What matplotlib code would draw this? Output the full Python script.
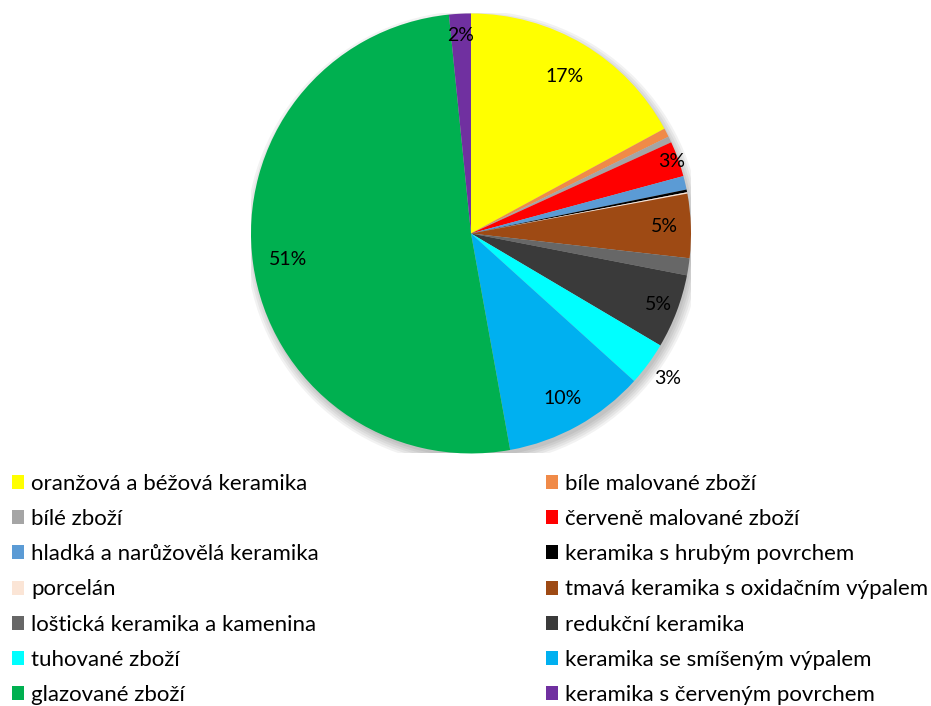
import numpy as np
import matplotlib.pyplot as plt
from matplotlib.patches import Circle, Patch

# Sherd groups and their share (percent), clockwise from 12 o'clock
categories = [
    'oranžová a béžová keramika', 'bíle malované zboží',
    'bílé zboží', 'červeně malované zboží',
    'hladká a narůžovělá keramika', 'keramika s hrubým povrchem',
    'porcelán', 'tmavá keramika s oxidačním výpalem',
    'loštická keramika a kamenina', 'redukční keramika',
    'tuhované zboží', 'keramika se smíšeným výpalem',
    'glazované zboží', 'keramika s červeným povrchem',
]
shares = [17.1, 0.65, 0.45, 2.6, 1.0, 0.2, 0.1, 4.7, 1.25, 5.45, 3.2, 10.45, 51.25, 1.6]
colors = ['#FFFF00', '#F08A48', '#A5A5A5', '#FF0000', '#5B9BD5', '#000000',
          '#FBE5D6', '#9E4A14', '#676767', '#3A3A3A', '#00FFFF', '#00B0F0',
          '#00B050', '#7030A0']
label_radius = [0.83, 0, 0, 0.97, 0, 0, 0, 0.88, 0, 0.91, 1.11, 0.86, 0.84, 0.9]

fig = plt.figure(figsize=(9.31, 7.06), dpi=100)
ax = fig.add_axes([0.2696, 0.3577, 0.4726, 0.6232])

# soft shadow, mostly below and to the right
for i in range(5):
    ax.add_patch(Circle((0.012, -0.022), 0.985 + 0.01 * (i + 1), color='black',
                        alpha=0.05, lw=0, zorder=0))

wedges, _ = ax.pie(shares, colors=colors, startangle=90, counterclock=False,
                   radius=1.0, wedgeprops=dict(linewidth=0))
for w in wedges:
    w.set_zorder(2)

for w, s, r in zip(wedges, shares, label_radius):
    if r == 0:
        continue
    ang = np.deg2rad((w.theta1 + w.theta2) / 2)
    ax.text(r * np.cos(ang), r * np.sin(ang), f'{round(s):d}%', ha='center',
            va='center', fontsize=14, family='Lato', zorder=3)

ax.set_xlim(-1, 1)
ax.set_ylim(-1, 1)
ax.set_aspect('equal')
ax.axis('off')

handles = [Patch(facecolor=c, edgecolor='none') for c in colors]
common = dict(frameon=False, handlelength=0.55, handleheight=0.6,
              handletextpad=0.3, labelspacing=0.685, borderaxespad=0,
              borderpad=0, prop={'family': 'Lato', 'size': 16})
leg1 = fig.legend(handles[0::2], categories[0::2], loc='upper left',
                  bbox_to_anchor=(0.0129, 0.329), **common)
leg2 = fig.legend(handles[1::2], categories[1::2], loc='upper left',
                  bbox_to_anchor=(0.5865, 0.329), **common)

fig.savefig('out.png', dpi=100)
